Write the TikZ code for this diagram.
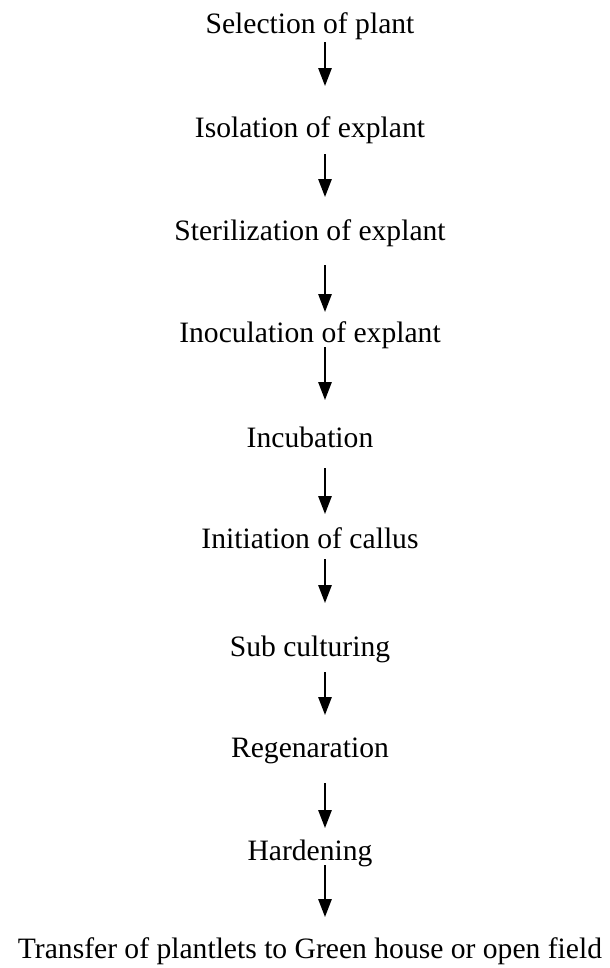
\documentclass[tikz,border=0pt]{standalone}
\usepackage{fontspec}
\setmainfont{Liberation Serif}
\usetikzlibrary{arrows.meta}
\begin{document}
\begin{tikzpicture}[-{Triangle[length=13.5pt,width=10pt]}, line width=1.4pt, x=0.75pt, y=-0.75pt,
  font=\fontsize{22.2}{26}\selectfont,
  every node/.style={anchor=base, inner sep=0pt}]
\useasboundingbox (0,0) rectangle (610,968);
% Pasos
\node (S1)  at (310,33)  {Selection of plant};
\node (S2)  at (310,137) {Isolation of explant};
\node (S3)  at (310,240) {Sterilization of explant};
\node (S4)  at (310,342) {Inoculation of explant};
\node (S5)  at (310,447) {Incubation};
\node (S6)  at (310,548) {Initiation of callus};
\node (S7)  at (310,656) {Sub culturing};
\node (S8)  at (310,757) {Regenaration};
\node (S9)  at (310,860) {Hardening};
\node (S10) at (310,958) {Transfer of plantlets to Green house or open field};
% Flechas
% ---
\foreach \a/\b/\s/\e in {S1/S2/9/51, S2/S3/17/43, S3/S4/25/30, S4/S5/5/47, S5/S6/21/34,
                         S6/S7/11/53, S7/S8/16/42, S8/S9/26/32, S9/S10/5/41}
  \draw [shorten <=\s*0.75pt, shorten >=\e*0.75pt] ([xshift=11.25pt]\a.base) -- ([xshift=11.25pt]\b.base);
\end{tikzpicture}
\end{document}
